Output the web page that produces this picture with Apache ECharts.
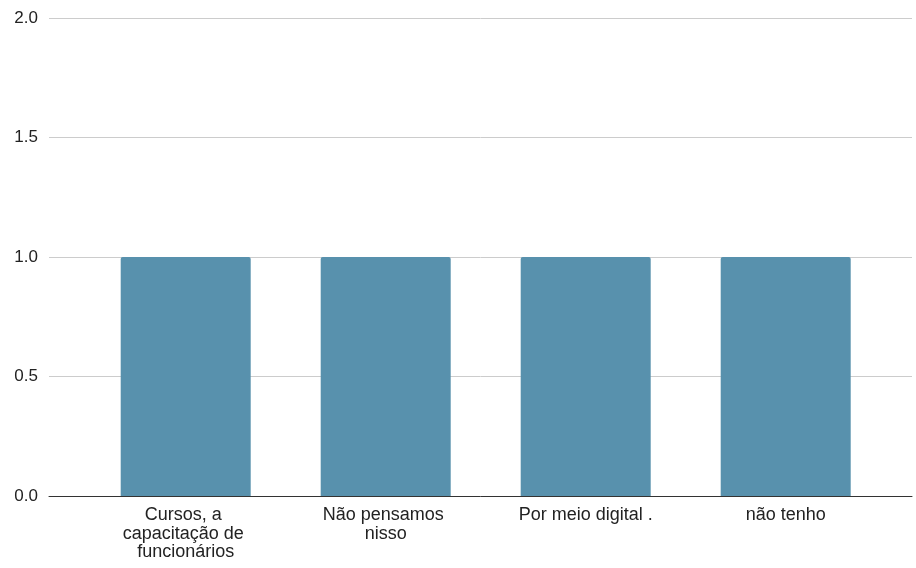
<!DOCTYPE html>
<html>
<head>
<meta charset="utf-8">
<script src="https://cdn.jsdelivr.net/npm/echarts@6/dist/echarts.min.js"></script>
<style>html,body{margin:0;padding:0;background:#fff}#c{width:916px;height:568px}</style>
</head>
<body>
<div id="c"></div>
<script>
const categories = ["Cursos, a capacitação de funcionários", "Não pensamos nisso", "Por meio digital .", "não tenho"];
const values = [1, 1, 1, 1];
const yTicks = [0, 0.5, 1, 1.5, 2];

const chart = echarts.init(document.getElementById('c'), null, {renderer: 'canvas'});
const positions = categories.map((_, i) => i);
chart.setOption({
  animation: false,
  grid: {left: 49, right: 4, top: 18, bottom: 72, containLabel: false},
  xAxis: {
    type: 'value',
    min: -0.6835,
    max: 3.6315,
    axisLine: {show: true, onZero: false, lineStyle: {color: '#333', width: 1}},
    axisTick: {show: false},
    splitLine: {show: false},
    axisLabel: {
      customValues: positions,
      formatter: v => categories[Math.round(v)] || '',
      width: 160,
      overflow: 'break',
      fontFamily: 'Liberation Sans, Arial, sans-serif',
      fontSize: 18,
      lineHeight: 18.5,
      color: '#222',
      margin: 10,
      align: 'center'
    }
  },
  yAxis: {
    type: 'value',
    min: yTicks[0],
    max: yTicks[yTicks.length - 1],
    interval: 0.5,
    axisLine: {show: false},
    axisTick: {show: false},
    splitLine: {lineStyle: {color: '#cccccc', width: 1}},
    axisLabel: {
      formatter: v => v.toFixed(1),
      fontFamily: 'Liberation Sans, Arial, sans-serif',
      fontSize: 17,
      color: '#222',
      margin: 11,
      padding: [2, 0, 0, 0]
    }
  },
  series: [{
    type: 'bar',
    data: values.map((v, i) => [positions[i], v]),
    barWidth: 130,
    itemStyle: {color: '#5891ad', borderRadius: [2, 2, 0, 0]}
  }]
});
</script>
</body>
</html>
